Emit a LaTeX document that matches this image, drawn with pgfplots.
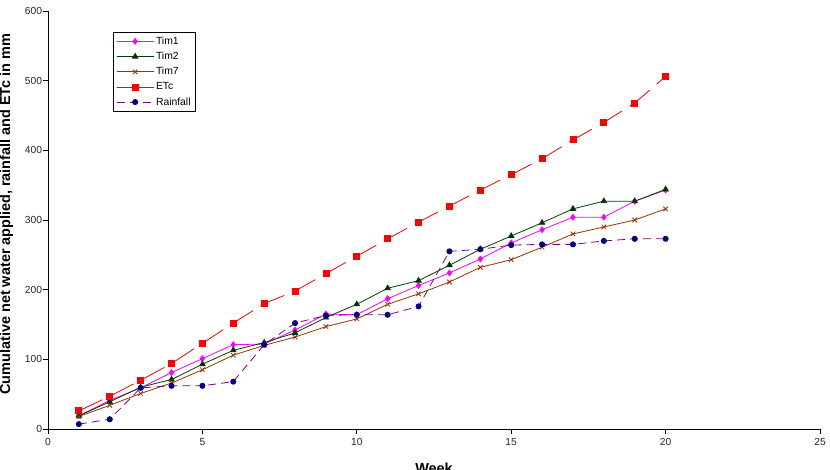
\documentclass[border=0pt]{standalone}
\usepackage{fontspec}
\setmainfont{Liberation Sans}
\usepackage{pgfplots}
\pgfplotsset{compat=1.18}

\definecolor{timone}{HTML}{FF00FF}
\definecolor{timtwo}{HTML}{004000}
\definecolor{timtwomark}{HTML}{003300}
\definecolor{timseven}{HTML}{993300}
\definecolor{etc}{HTML}{FF0000}
\definecolor{rainline}{HTML}{800080}
\definecolor{rainmark}{HTML}{000080}

\begin{document}
\begin{tikzpicture}
\begin{axis}[
  at={(48bp,41bp)}, anchor=south west,
  scale only axis, width=772bp, height=418bp,
  xmin=0, xmax=25, ymin=0, ymax=600,
  xtick={0,5,...,25}, ytick={0,100,...,600},
  axis x line=bottom, axis y line=left,
  axis line style={-, black, line width=0.9bp},
  tick style={black, line width=0.8bp},
  tick align=outside, major tick length=5bp,
  /pgf/number format/assume math mode=true,
  tick label style={font=\fontsize{10.3}{12}\selectfont, text=black!85},
  xticklabel style={yshift=-1bp},
  yticklabel style={xshift=2.5bp},
  xlabel={Week},
  ylabel={Cumulative net water applied, rainfall and ETc in mm},
  xlabel style={at={(axis description cs:0.5,-0.093)}, anchor=center, font=\fontsize{14.5}{16}\selectfont\bfseries},
  ylabel style={at={(axis description cs:-0.054,0.514)}, anchor=center, font=\fontsize{14.5}{16}\selectfont\bfseries},
  legend style={at={(0.084,0.95)}, anchor=north west, draw=black, line width=0.8bp,
    font=\fontsize{10.4}{12.5}\selectfont, cells={anchor=west},
    inner xsep=3bp, inner ysep=2.5bp, row sep=2.3bp},
  legend image code/.code={\draw[mark repeat=2,mark phase=2] plot coordinates {(0bp,0bp) (18.5bp,0bp) (37bp,0bp)};},
]
% Tim1
\addplot[color=timone, line width=0.8bp, mark=diamond*, mark size=2.9bp, mark options={fill=timone, draw=timone, solid}]
coordinates {(1,19) (2,41) (3,59) (4,81) (5,101) (6,121) (7,122) (8,142) (9,165) (10,164)
 (11,187) (12,206) (13,224) (14,244) (15,267) (16,286) (17,304) (18,304) (19,327) (20,343)};
\addlegendentry{Tim1}
% Tim2
\addplot[color=timtwo, line width=0.8bp, mark=triangle*, mark size=3.1bp, mark options={fill=timtwomark, draw=timtwomark, solid}]
coordinates {(1,19) (2,39) (3,60) (4,71) (5,93) (6,113) (7,124) (8,138) (9,160) (10,179)
 (11,202) (12,213) (13,235) (14,258) (15,277) (16,296) (17,316) (18,327) (19,327) (20,344)};
\addlegendentry{Tim2}
% Tim7
\addplot[color=timseven, line width=0.8bp, mark=x, mark size=3.2bp, mark options={draw=timseven, solid}]
coordinates {(1,18) (2,34) (3,51) (4,66) (5,85) (6,106) (7,120) (8,132) (9,147) (10,158)
 (11,179) (12,194) (13,211) (14,232) (15,243) (16,261) (17,280) (18,290) (19,300) (20,316)};
\addlegendentry{Tim7}
% ETc
\addplot[color=etc, line width=0.8bp, dash pattern=on 26bp off 9bp, mark=square*, mark size=3bp, mark options={fill=etc, draw=etc, solid},
  legend image post style={solid}]
coordinates {(1,26) (2,47) (3,70) (4,94) (5,123) (6,152) (7,180) (8,198) (9,223) (10,248)
 (11,273) (12,297) (13,320) (14,343) (15,365) (16,388) (17,415) (18,440) (19,468) (20,506)};
\addlegendentry{ETc}
% Rainfall
\addplot[color=rainline, line width=0.8bp, dash pattern=on 8bp off 5bp, mark=*, mark size=2.6bp, mark options={fill=rainmark, draw=rainmark, solid}]
coordinates {(1,7) (2,14) (3,59) (4,62) (5,62) (6,68) (7,121) (8,152) (9,163) (10,164)
 (11,164) (12,176) (13,255) (14,258) (15,264) (16,265) (17,265) (18,270) (19,273) (20,273)};
\addlegendentry{Rainfall}
\end{axis}
\pgfresetboundingbox
\path[use as bounding box] (0,0) rectangle (830bp,470bp);
\end{tikzpicture}
\end{document}
